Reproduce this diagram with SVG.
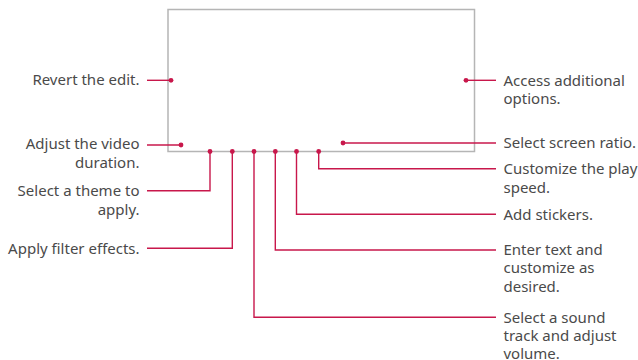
<svg xmlns="http://www.w3.org/2000/svg" width="638" height="360" viewBox="0 0 638 360">
<style>
.t{font-family:"Noto Sans","Liberation Sans",sans-serif;font-size:15px;fill:#4a4a4a}
.r{text-anchor:end}
.c{fill:none;stroke:#c8174b;stroke-width:1.4}
.d{fill:#c8174b}
</style>
<rect width="638" height="360" fill="#fff"/>
<g id="screen"><rect x="168" y="9.5" width="306.5" height="142" fill="none" stroke="#b5b5b5" stroke-width="1.5"/></g>
<g id="connectors">
<path class="c" d="M147 80.3H171"/>
<path class="c" d="M147 145H181"/>
<path class="c" d="M466 80.3H496"/>
<path class="c" d="M343 143H496"/>
<path class="c" d="M210 151.5V190.7H147"/>
<path class="c" d="M232.3 151.5V248.3H147"/>
<path class="c" d="M254 151.5V317.3H496"/>
<path class="c" d="M275.3 151.5V250H496"/>
<path class="c" d="M296.5 151.5V214.3H496"/>
<path class="c" d="M318.7 151.5V168.7H496"/>
<circle class="d" cx="171" cy="80.3" r="2.4"/>
<circle class="d" cx="181" cy="145" r="2.4"/>
<circle class="d" cx="466" cy="80.3" r="2.4"/>
<circle class="d" cx="343" cy="143" r="2.4"/>
<circle class="d" cx="210" cy="151.5" r="2.4"/>
<circle class="d" cx="232.3" cy="151.5" r="2.4"/>
<circle class="d" cx="254" cy="151.5" r="2.4"/>
<circle class="d" cx="275.3" cy="151.5" r="2.4"/>
<circle class="d" cx="296.5" cy="151.5" r="2.4"/>
<circle class="d" cx="318.7" cy="151.5" r="2.4"/>
</g>
<g id="revert"><text class="t r" x="139.5" y="85">Revert the edit.</text></g>
<g id="duration"><text class="t r" x="139.5" y="149.3">Adjust the video</text><text class="t r" x="139.5" y="168.3">duration.</text></g>
<g id="theme"><text class="t r" x="139.5" y="196">Select a theme to</text><text class="t r" x="139.5" y="214.5">apply.</text></g>
<g id="filter"><text class="t r" x="139.5" y="254">Apply filter effects.</text></g>
<g id="options"><text class="t" x="503.5" y="85.5">Access additional</text><text class="t" x="503.5" y="104">options.</text></g>
<g id="ratio"><text class="t" x="503.5" y="148.3">Select screen ratio.</text></g>
<g id="speed"><text class="t" x="503.5" y="174.3">Customize the play</text><text class="t" x="503.5" y="193">speed.</text></g>
<g id="stickers"><text class="t" x="503.5" y="220">Add stickers.</text></g>
<g id="text"><text class="t" x="503.5" y="255">Enter text and</text><text class="t" x="503.5" y="273.3">customize as</text><text class="t" x="503.5" y="291.7">desired.</text></g>
<g id="sound"><text class="t" x="503.5" y="322.6">Select a sound</text><text class="t" x="503.5" y="341">track and adjust</text><text class="t" x="503.5" y="358.8">volume.</text></g>
</svg>
